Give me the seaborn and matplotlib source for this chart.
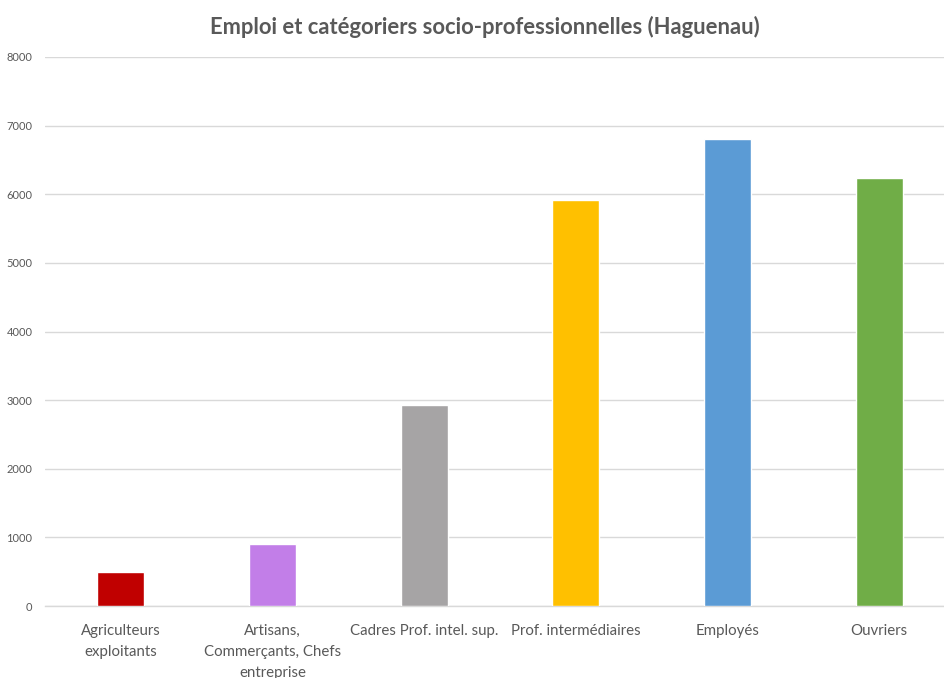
import matplotlib
matplotlib.use("Agg")
import matplotlib.pyplot as plt
import seaborn as sns
import pandas as pd

categories = [
    "Agriculteurs\nexploitants",
    "Artisans,\nCommerçants, Chefs\nentreprise",
    "Cadres Prof. intel. sup.",
    "Prof. intermédiaires",
    "Employés",
    "Ouvriers",
]
effectifs = [490, 910, 2930, 5910, 6810, 6230]
couleurs = ["#C00000", "#C27EE8", "#A6A4A5", "#FFC000", "#5B9BD5", "#70AD47"]
y_ticks = [0, 1000, 2000, 3000, 4000, 5000, 6000, 7000, 8000]
titre = "Emploi et catégoriers socio-professionnelles (Haguenau)"

df = pd.DataFrame({"categorie": categories, "effectif": effectifs})

sns.set_theme(style="white")
plt.rcParams["font.family"] = ["Lato", "DejaVu Sans"]

fig = plt.figure(figsize=(9.45, 6.78), dpi=100)
ax = fig.add_axes([0.0476, 0.106, 0.9524, 0.81])

sns.barplot(
    data=df, x="categorie", y="effectif", hue="categorie",
    palette=couleurs, width=0.31, legend=False, ax=ax, saturation=1,
    zorder=3,
)

ax.set_ylim(0, 8000)
ax.set_xlim(-0.5, 5.435)
ax.set_yticks(y_ticks)
ax.set_yticklabels([str(v) for v in y_ticks], fontsize=8, color="#595959")
ax.tick_params(axis="x", labelsize=10.8, colors="#595959", length=0, pad=13)
ax.tick_params(axis="y", length=0, pad=9)
for lbl in ax.get_xticklabels():
    lbl.set_linespacing(1.62)
    lbl.set_verticalalignment("top")

ax.yaxis.grid(True, color="#D9D9D9", linewidth=1, zorder=0)
ax.set_axisbelow(True)
for side in ["top", "right", "left"]:
    ax.spines[side].set_visible(False)
ax.spines["bottom"].set_color("#D9D9D9")
ax.spines["bottom"].set_linewidth(1)
ax.set_xlabel("")
ax.set_ylabel("")

fig.text(0.513, 0.96, titre, ha="center", va="center",
         fontsize=15.8, fontweight="bold", color="#595959")

fig.savefig("out.png", dpi=100, facecolor="white")
